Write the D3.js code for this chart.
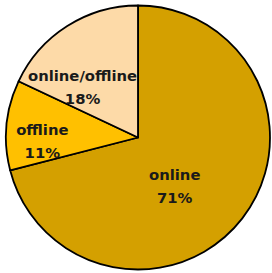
<!DOCTYPE html>
<html>
<head>
<meta charset="utf-8">
<script src="https://cdn.jsdelivr.net/npm/d3@7"></script>
<style>
  html, body { margin: 0; padding: 0; background: #fff; }
</style>
</head>
<body>
<div id="chart"></div>
<script>
const categories = ["online", "offline", "online/offline"];
const values = [71, 11, 18];
const percentLabels = ["71%", "11%", "18%"];
const sliceColors = ["#D4A000", "#FFC000", "#FDDAA8"];

const width = 272,
  height = 273;
const cx = 138,
  cy = 137.5,
  radius = 132;

// "best fit" label placement: radius fraction and angle shift (deg) from the slice middle
const labelFit = {
  online: { r: 0.45, shift: 14 },
  offline: { r: 0.725, shift: -6 },
  "online/offline": { r: 0.58, shift: -14 },
};

const svg = d3
  .select("#chart")
  .append("svg")
  .attr("width", width)
  .attr("height", height);

const g = svg.append("g").attr("transform", `translate(${cx},${cy})`);

const pie = d3.pie().sort(null).value((d) => d.value);
const arcs = pie(
  categories.map((c, i) => ({
    name: c,
    value: values[i],
    label: percentLabels[i],
    color: sliceColors[i],
  }))
);

const arc = d3.arc().innerRadius(0).outerRadius(radius);

function labelPos(d) {
  const fit = labelFit[d.data.name];
  const a = (d.startAngle + d.endAngle) / 2 + (fit.shift * Math.PI) / 180;
  const r = radius * fit.r;
  return [r * Math.sin(a), -r * Math.cos(a)];
}

g.selectAll("path")
  .data(arcs)
  .enter()
  .append("path")
  .attr("d", arc)
  .attr("fill", (d) => d.data.color)
  .attr("stroke", "#000")
  .attr("stroke-width", 1.8)
  .attr("stroke-linejoin", "round");

const labels = g
  .selectAll("text")
  .data(arcs)
  .enter()
  .append("text")
  .attr("transform", (d) => `translate(${labelPos(d)})`)
  .attr("text-anchor", "middle")
  .style("font-family", "'DejaVu Sans', sans-serif")
  .style("font-weight", "bold")
  .style("font-size", "14.8px")
  .attr("fill", "#1a1a1a");

labels.append("tspan").attr("x", 0).attr("y", -4).text((d) => d.data.name);
labels.append("tspan").attr("x", 0).attr("y", 19).text((d) => d.data.label);
</script>
</body>
</html>
